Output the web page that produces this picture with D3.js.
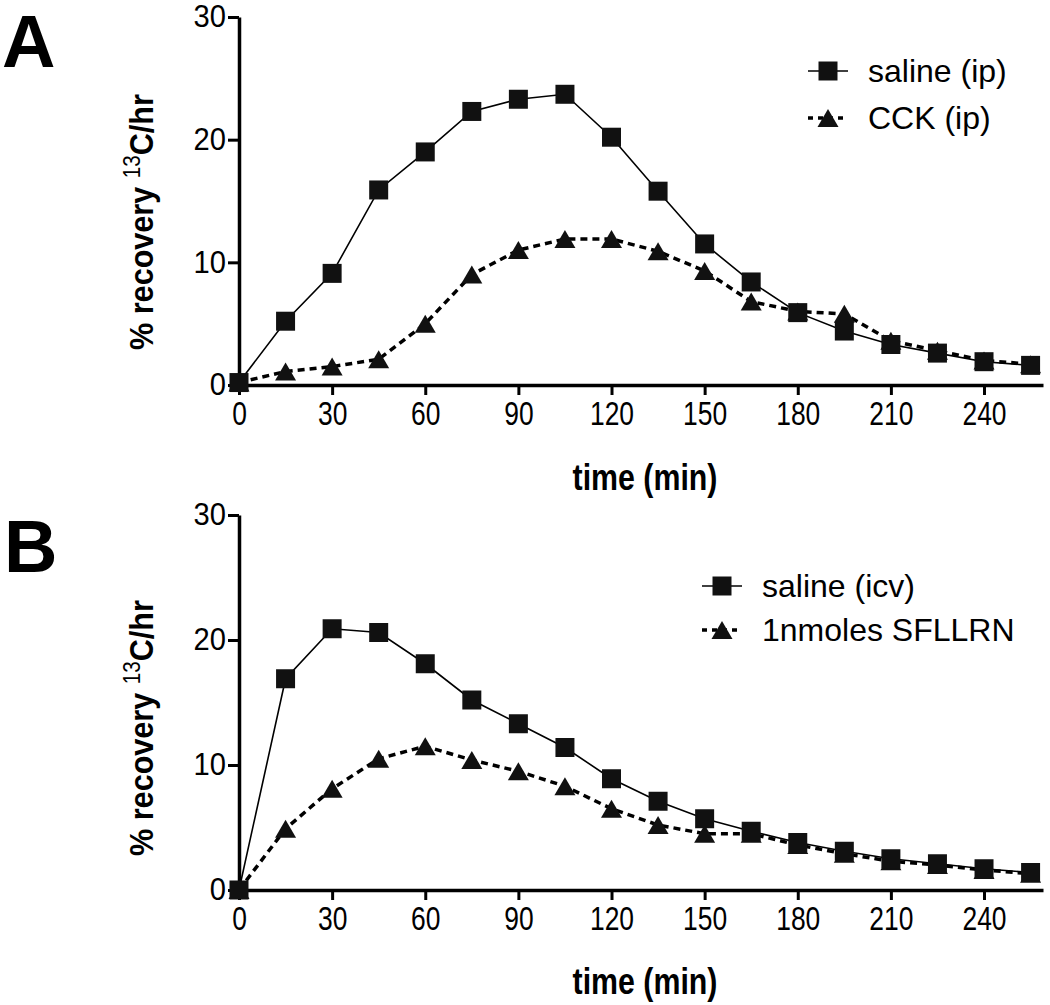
<!DOCTYPE html>
<html>
<head>
<meta charset="utf-8">
<script src="https://cdn.jsdelivr.net/npm/d3@7"></script>
<style>
  html, body { margin: 0; padding: 0; background: #fff; }
  svg { display: block; font-family: "Liberation Sans", Arial, Helvetica, sans-serif; }
</style>
</head>
<body>
<svg id="chart" width="1050" height="1005"></svg>
<script>
// ---------- data ----------
const timeMin = [0, 15, 30, 45, 60, 75, 90, 105, 120, 135, 150, 165, 180, 195, 210, 225, 240, 255];

const salineIp = [0.2, 5.2, 9.1, 15.9, 19.0, 22.3, 23.3, 23.7, 20.2, 15.8, 11.5, 8.4, 5.9, 4.4, 3.3, 2.6, 1.9, 1.6];
const cckIp    = [0.2, 1.1, 1.5, 2.1, 5.0, 9.0, 11.0, 11.9, 11.9, 10.9, 9.3, 6.8, 6.0, 5.8, 3.6, 2.8, 2.0, 1.7];

const salineIcv = [0, 16.9, 20.9, 20.6, 18.1, 15.2, 13.3, 11.4, 8.9, 7.1, 5.7, 4.7, 3.8, 3.1, 2.5, 2.1, 1.7, 1.4];
const sfllrn    = [0, 4.9, 8.1, 10.5, 11.5, 10.4, 9.5, 8.3, 6.5, 5.2, 4.5, 4.5, 3.6, 2.9, 2.3, 2.0, 1.6, 1.3];

const xTicks = [0, 30, 60, 90, 120, 150, 180, 210, 240];
const yTicks = [0, 10, 20, 30];

const panelLabels = ["A", "B"];
const legendA = ["saline (ip)", "CCK (ip)"];
const legendB = ["saline (icv)", "1nmoles SFLLRN"];
const xTitle = "time (min)";

// ---------- layout ----------
const svg = d3.select("#chart");
const X0 = 239, X1 = 1043;

const panels = [
  { label: panelLabels[0], labelX: 2, labelY: 67, yBottom: 385, yTop: 17,
    s1: salineIp, s2: cckIp, legend: legendA, legX: 828, legY: [71, 118],
    titleCY: 222, xTitleY: 490 },
  { label: panelLabels[1], labelX: 4, labelY: 572, yBottom: 890, yTop: 515,
    s1: salineIcv, s2: sfllrn, legend: legendB, legX: 722, legY: [586, 630],
    titleCY: 728, xTitleY: 994 }
];

const x = d3.scaleLinear().domain([0, 259]).range([X0, X1]);

const sqSize = 19;
function squarePath(cx, cy) {
  const h = sqSize / 2;
  return `M${cx - h},${cy - h}h${sqSize}v${sqSize}h${-sqSize}Z`;
}
function triPath(cx, cy) {
  const w = 21, h = 18;
  return `M${cx},${cy - h / 2}L${cx + w / 2},${cy + h / 2}L${cx - w / 2},${cy + h / 2}Z`;
}

panels.forEach(p => {
  const y = d3.scaleLinear().domain([0, 30]).range([p.yBottom, p.yTop]);
  const g = svg.append("g");

  // panel letter
  g.append("text").attr("x", p.labelX).attr("y", p.labelY)
    .attr("font-size", 74).attr("font-weight", "bold").text(p.label);

  // x axis
  const xa = g.append("g").attr("transform", `translate(0,${p.yBottom})`)
    .call(d3.axisBottom(x).tickValues(xTicks).tickFormat(d3.format("d"))
      .tickSize(10).tickSizeOuter(0).tickPadding(7));
  xa.select(".domain").attr("stroke-width", 3.5);
  xa.selectAll(".tick line").attr("stroke-width", 3);
  xa.selectAll(".tick text").attr("font-size", 33).attr("fill", "#000")
    .attr("font-family", "'Liberation Sans', Arial, sans-serif")
    .attr("transform", "scale(0.8,1)");

  // y axis
  const ya = g.append("g").attr("transform", `translate(${X0},0)`)
    .call(d3.axisLeft(y).tickValues(yTicks).tickFormat(d3.format("d"))
      .tickSize(11).tickSizeOuter(0).tickPadding(3));
  ya.select(".domain").attr("stroke-width", 3.5);
  ya.selectAll(".tick line").attr("stroke-width", 3);
  ya.selectAll(".tick text").attr("font-size", 31).attr("fill", "#000")
    .attr("font-family", "'Liberation Sans', Arial, sans-serif")
    .attr("transform", "scale(0.94,1)");

  // y title
  const yt = g.append("text")
    .attr("transform", `translate(153,${p.titleCY}) rotate(-90) scale(0.9,1)`)
    .attr("text-anchor", "middle").attr("font-size", 34).attr("font-weight", "bold");
  yt.append("tspan").text("% recovery ");
  yt.append("tspan").attr("font-size", 23).attr("font-weight", "normal").attr("dy", -13).text("13");
  yt.append("tspan").attr("dy", 13).text("C/hr");

  // x title
  g.append("text")
    .attr("transform", `translate(645,${p.xTitleY}) scale(0.82,1)`)
    .attr("text-anchor", "middle").attr("font-size", 37).attr("font-weight", "bold")
    .text(xTitle);

  // lines
  const line = d3.line().x((d, i) => x(timeMin[i])).y(d => y(d));
  g.append("path").datum(p.s1).attr("d", line).attr("fill", "none")
    .attr("stroke", "#000").attr("stroke-width", 1.6);
  g.append("path").datum(p.s2).attr("d", line).attr("fill", "none")
    .attr("stroke", "#000").attr("stroke-width", 3.5).attr("stroke-dasharray", "7,5");

  // markers
  g.selectAll(".tri").data(p.s2).enter().append("path").attr("class", "tri")
    .attr("d", (d, i) => triPath(x(timeMin[i]), y(d))).attr("fill", "#111");
  g.selectAll(".sq").data(p.s1).enter().append("path").attr("class", "sq")
    .attr("d", (d, i) => squarePath(x(timeMin[i]), y(d))).attr("fill", "#111");

  // legend
  const lx = p.legX;
  const l1 = g.append("g");
  l1.append("line").attr("x1", lx - 20).attr("x2", lx + 20).attr("y1", p.legY[0]).attr("y2", p.legY[0])
    .attr("stroke", "#000").attr("stroke-width", 1.6);
  l1.append("path").attr("d", squarePath(lx, p.legY[0])).attr("fill", "#111");
  l1.append("text").attr("x", lx + 40).attr("y", p.legY[0]).attr("dy", "0.35em")
    .attr("font-size", 32).text(p.legend[0]);

  const l2 = g.append("g");
  l2.append("line").attr("x1", lx - 20).attr("x2", lx + 20).attr("y1", p.legY[1]).attr("y2", p.legY[1])
    .attr("stroke", "#000").attr("stroke-width", 3.5).attr("stroke-dasharray", "5,5");
  l2.append("path").attr("d", triPath(lx, p.legY[1])).attr("fill", "#111");
  l2.append("text").attr("x", lx + 40).attr("y", p.legY[1]).attr("dy", "0.35em")
    .attr("font-size", 32).text(p.legend[1]);
});
</script>
</body>
</html>
